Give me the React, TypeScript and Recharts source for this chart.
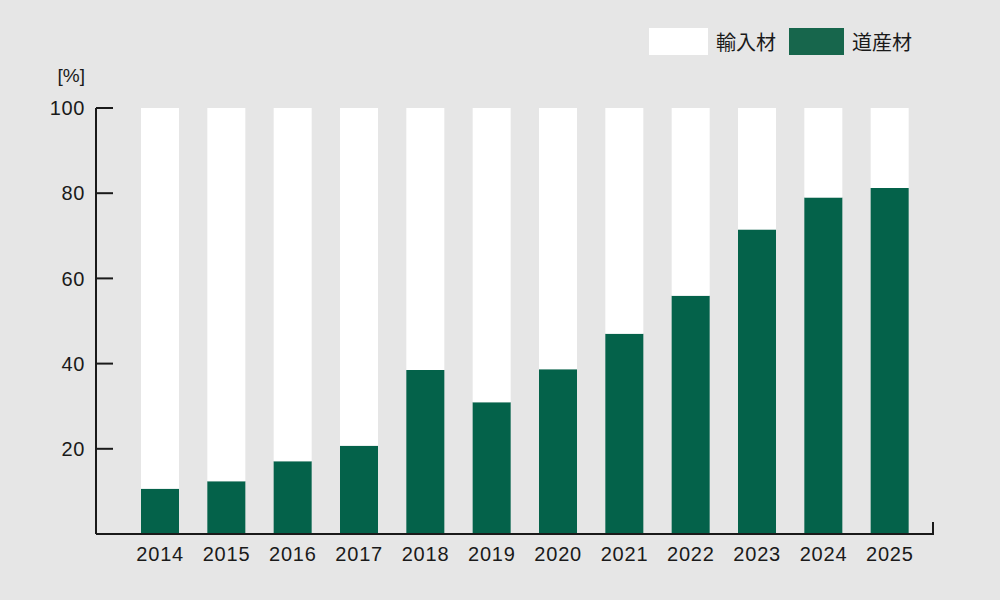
import React from 'react';
import * as Recharts from 'recharts';

const { BarChart, Bar, XAxis, YAxis } = Recharts as any;
const usePlotAreaSafe: () => any = (Recharts as any).usePlotArea || (() => null);

const years = ['2014', '2015', '2016', '2017', '2018', '2019', '2020', '2021', '2022', '2023', '2024', '2025'];
const domestic = [10.6, 12.4, 17.1, 20.7, 38.5, 30.9, 38.7, 47.0, 55.9, 71.5, 79.0, 81.2];
const imported = [89.4, 87.6, 82.9, 79.3, 61.5, 69.1, 61.3, 53.0, 44.1, 28.5, 21.0, 18.8];
const yTicks = [20, 40, 60, 80, 100];

const seriesNames = { domestic: '道産材', imported: '輸入材' };

const BG = '#e6e6e6';
const GREEN = '#04624a';
const LEGEND_GREEN = '#17664c';
const INK = '#1a1a1a';
const FONT = '"Liberation Sans", Arial, Helvetica, sans-serif';
const CJK = '"Noto Sans CJK JP", "Noto Sans", sans-serif';

const data = years.map((y, i) => ({ year: y, domestic: domestic[i], imported: imported[i] }));

const YTick = (props: any) => {
  const { x, y, payload } = props;
  return (
    <g>
      <line x1={x + 11} x2={x + 28} y1={y} y2={y} stroke={INK} strokeWidth={2} />
      <text x={x} y={y} dy="0.36em" textAnchor="end" fill={INK} fontSize={20} fontFamily={FONT} letterSpacing={0.6}>
        {payload.value}
      </text>
    </g>
  );
};

const XTick = (props: any) => {
  const { x, y, payload } = props;
  return (
    <text x={x} y={y} dy="0.71em" textAnchor="middle" fill={INK} fontSize={20} fontFamily={FONT} letterSpacing={0.8}>
      {payload.value}
    </text>
  );
};

const UnitLabel = (props: any) => {
  const vb = props.viewBox || {};
  const rx = (vb.x || 0) + (vb.width || 0) - 11;
  const ty = (vb.y || 0) - 26;
  return (
    <text x={rx} y={ty} textAnchor="end" fill={INK} fontSize={19} fontFamily={FONT}>
      [%]
    </text>
  );
};

const EndTick = () => {
  const pa = usePlotAreaSafe();
  if (!pa) return null;
  const xr = pa.x + pa.width;
  const yb = pa.y + pa.height;
  return <line x1={xr} x2={xr} y1={yb - 12} y2={yb + 1} stroke={INK} strokeWidth={2} />;
};

const LegendBox = () => {
  const items = [
    { label: seriesNames.imported, color: '#ffffff', w: 59 },
    { label: seriesNames.domestic, color: LEGEND_GREEN, w: 55 },
  ];
  return (
    <div style={{ position: 'absolute', top: 28, right: 88, display: 'flex', alignItems: 'center' }}>
      {items.map((it) => (
        <div key={it.label} style={{ display: 'flex', alignItems: 'center', marginLeft: 13 }}>
          <div style={{ width: it.w, height: 27, background: it.color }} />
          <span style={{ marginLeft: 8, fontSize: 20, fontFamily: CJK, color: INK, lineHeight: '27px' }}>{it.label}</span>
        </div>
      ))}
    </div>
  );
};

export default function App() {
  return (
    <div style={{ position: 'absolute', left: 0, top: 0, width: 1000, height: 600, background: BG }}>
      <BarChart width={1000} height={600} data={data} margin={{ top: 108, right: 67, bottom: 36, left: 0 }}>
        <XAxis
          dataKey="year"
          height={30}
          axisLine={{ stroke: INK, strokeWidth: 2 }}
          tickLine={false}
          tickSize={0}
          tickMargin={13}
          tick={<XTick />}
          padding={{ left: 31, right: 10 }}
          interval={0}
        />
        <YAxis
          width={96}
          domain={[0, 100]}
          ticks={yTicks}
          axisLine={{ stroke: INK, strokeWidth: 2 }}
          tickLine={false}
          tickSize={0}
          tickMargin={11}
          tick={<YTick />}
          label={<UnitLabel />}
          interval={0}
        />
        <Bar dataKey="domestic" name={seriesNames.domestic} stackId="a" fill={GREEN} barSize={38} isAnimationActive={false} />
        <Bar dataKey="imported" name={seriesNames.imported} stackId="a" fill="#ffffff" barSize={38} isAnimationActive={false} />
        <EndTick />
      </BarChart>
      <LegendBox />
    </div>
  );
}
